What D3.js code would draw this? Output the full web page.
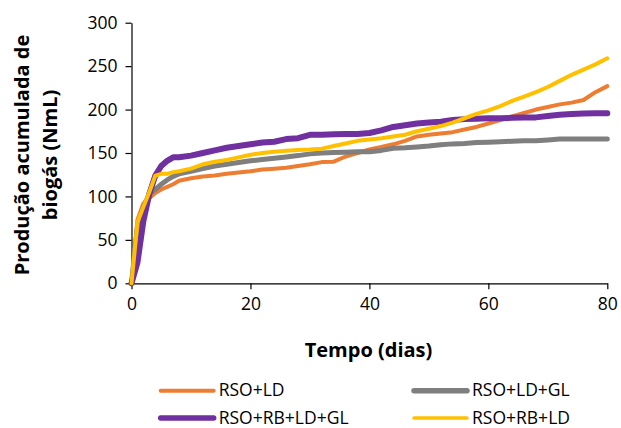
<!DOCTYPE html>
<html>
<head>
<meta charset="utf-8">
<script src="https://cdn.jsdelivr.net/npm/d3@7"></script>
<style>
  body { margin: 0; background: #fff; }
  svg { font-family: "Open Sans", sans-serif; }
</style>
</head>
<body>
<div id="chart"></div>
<script>
// days sampled (shared by every series)
const days = [0,1,2,3,4,5,6,7,8,10,12,14,16,18,20,22,24,26,28,30,32,34,36,38,40,
  42,44,46,48,50,52,54,56,58,60,62,64,66,68,70,72,74,76,78,80];

const rsoLd = [0,73,92,98,104,108,111,114,118,121,123,124,126,127.5,129,131,132,133,135,137,
  139.5,140,146,150,154,157,160,164,169,171,172.5,174,177,180,184,188,192,196,200,203,206,208,211,220,227];
const rsoLdGl = [0,65,88,103,108,114,119,123,126,129,132,135,137,139,141,142.5,144,145.5,147,149,
  150,150.5,151,151.5,151.5,153,155.5,156,157,158,159.5,160.5,161,162,162.5,163,163.5,164,164,165,166,166,166,166,166];
const rsoRbLdGl = [0,24,72,103,124,135,141,145,145,147,150,153,156,158,160,162,163,166,167,171,
  171,171.5,172,172,173,176,180,182,184,185,186,188,189,189.5,190,190,190.5,191,191,192.5,194,195,195.5,195.7,195.7];
const rsoRbLd = [0,70,88,105,124,126,126,128,129,132,137,140,142,145,148,150,151.5,152.5,153.5,154,
  155,158,161,164,165.5,167,169,171,175,178,181,185,190,195,199,204,210,215,220,226,233,240,246,252,259];

const seriesNames = ["RSO+LD", "RSO+LD+GL", "RSO+RB+LD+GL", "RSO+RB+LD"];
const seriesColors = ["#ED7D31", "#7F7F7F", "#7030A0", "#FFC000"];
const seriesWidths = [4, 5, 6, 4];
const seriesValues = [rsoLd, rsoLdGl, rsoRbLdGl, rsoRbLd];

const xTicks = [0, 20, 40, 60, 80];
const yTicks = [0, 50, 100, 150, 200, 250, 300];

const W = 621, H = 428;
const x0 = 131.5, x1 = 607.3, y0 = 283.3, y1 = 22.7;

const svg = d3.select("#chart").append("svg")
  .attr("width", W)
  .attr("height", H);

const xScale = d3.scaleLinear().domain([0, 80]).range([x0, x1]);
const yScale = d3.scaleLinear().domain([0, 300]).range([y0, y1]);

//axes
const xAxis = d3.axisBottom(xScale).tickValues(xTicks).tickSize(6).tickPadding(8).tickSizeOuter(0);
const yAxis = d3.axisLeft(yScale).tickValues(yTicks).tickSize(6).tickPadding(8).tickSizeOuter(0);

const gx = svg.append("g")
  .attr("transform", "translate(0," + y0 + ")")
  .call(xAxis);
const gy = svg.append("g")
  .attr("transform", "translate(" + x0 + ",0)")
  .call(yAxis);

[gx, gy].forEach(g => {
  g.select(".domain").attr("stroke", "#000").attr("stroke-width", 1.2);
  g.selectAll(".tick line").attr("stroke", "#000").attr("stroke-width", 1.2);
  g.selectAll(".tick text")
    .attr("fill", "#000")
    .style("font-size", "17.5px")
    .style("font-family", "'Open Sans', sans-serif");
});

//lines
const line = d3.line()
  .x((d, i) => xScale(days[i]))
  .y(d => yScale(d));

seriesValues.forEach((vals, k) => {
  svg.append("path")
    .datum(vals)
    .attr("d", line)
    .attr("fill", "none")
    .attr("stroke", seriesColors[k])
    .attr("stroke-width", seriesWidths[k])
    .attr("stroke-linejoin", "round")
    .attr("stroke-linecap", "round");
});

//axis titles
svg.append("text")
  .attr("x", 368.5)
  .attr("y", 357)
  .attr("text-anchor", "middle")
  .style("font-weight", "bold")
  .style("font-size", "20px")
  .text("Tempo (dias)");

const yTitle = svg.append("text")
  .attr("transform", "translate(29,155) rotate(-90)")
  .attr("text-anchor", "middle")
  .style("font-weight", "bold")
  .style("font-size", "20px");
yTitle.append("tspan").attr("x", 0).attr("y", 0).text("Produção acumulada de");
yTitle.append("tspan").attr("x", 0).attr("y", 27.5).text("biogás (NmL)");

//legend
const legendPos = [[160.7, 390.7], [414, 390.7], [160.7, 418], [414, 418]];
const legendW = [4, 5.5, 5.5, 3.5];
seriesNames.forEach((name, k) => {
  const [lx, ly] = legendPos[k];
  svg.append("line")
    .attr("x1", lx).attr("x2", lx + 53)
    .attr("y1", ly).attr("y2", ly)
    .attr("stroke", seriesColors[k])
    .attr("stroke-width", legendW[k])
    .attr("stroke-linecap", "round");
  svg.append("text")
    .attr("x", lx + 58)
    .attr("y", ly + 5.5)
    .style("font-size", "17.5px")
    .text(name);
});
</script>
</body>
</html>
